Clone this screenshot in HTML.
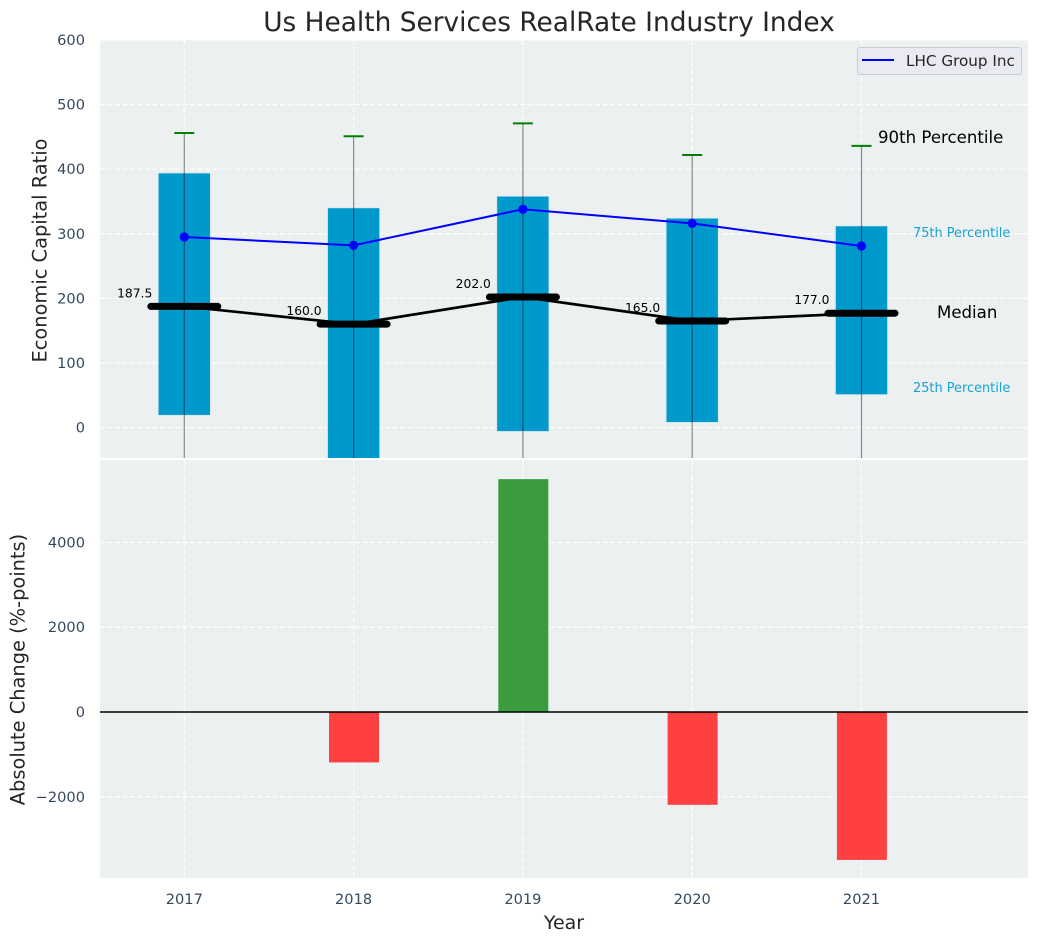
<!DOCTYPE html>
<html>
<head>
<meta charset="utf-8">
<title>Us Health Services RealRate Industry Index</title>
<style>
html,body{margin:0;padding:0;background:#fff;width:1039px;height:942px;overflow:hidden}
svg{display:block}
text{font-family:"DejaVu Sans","Liberation Sans",sans-serif}
</style>
</head>
<body>
<svg id="chart" xmlns="http://www.w3.org/2000/svg" width="1039" height="942" viewBox="0 0 1039 942">
<defs>
<clipPath id="top-clip"><rect x="100" y="40" width="928" height="418"/></clipPath>
<clipPath id="bottom-clip"><rect x="100" y="460" width="928" height="418"/></clipPath>
</defs>
<rect x="100" y="40" width="928" height="418" fill="#ecf0f1"/>
<rect x="100" y="460" width="928" height="418" fill="#ecf0f1"/>
<g id="top-grid"></g>
<g id="bottom-grid"></g>
<g id="top-marks" clip-path="url(#top-clip)"></g>
<g id="bottom-marks" clip-path="url(#bottom-clip)"></g>
<g id="tick-labels"></g>
<text x="549" y="31" text-anchor="middle" font-size="26.4" fill="#262626">Us Health Services RealRate Industry Index</text>
<text transform="translate(46.5,250.5) rotate(-90)" text-anchor="middle" font-size="19.4" fill="#262626">Economic Capital Ratio</text>
<text transform="translate(24.5,669.5) rotate(-90)" text-anchor="middle" font-size="19.4" fill="#262626">Absolute Change (%-points)</text>
<text x="564" y="929" text-anchor="middle" font-size="19" fill="#262626">Year</text>
<text x="878" y="143" font-size="16.6" fill="#000">90th Percentile</text>
<text x="913" y="237" font-size="12.9" fill="#0099cc" fill-opacity="0.9">75th Percentile</text>
<text x="937" y="318" font-size="16.6" fill="#000">Median</text>
<text x="913" y="392" font-size="12.9" fill="#0099cc" fill-opacity="0.9">25th Percentile</text>
<g>
<rect x="857.5" y="47.5" width="164" height="27" rx="2.5" fill="#eaeaf2" stroke="#cccccc" stroke-width="1"/>
<line x1="862" y1="60" x2="894" y2="60" stroke="#0000ff" stroke-width="2"/>
<text x="906" y="66" font-size="15.2" fill="#262626">LHC Group Inc</text>
</g>
</svg>
<script>
var years = [2017, 2018, 2019, 2020, 2021];
var p90 = [456, 451, 471, 422, 436];
var p75 = [394, 340, 358, 324, 312];
var medians = [187.5, 160, 202, 165, 177];
var medianLabels = ["187.5", "160.0", "202.0", "165.0", "177.0"];
var p25 = [19, -70, -6, 8, 51];
var p10 = [-120, -150, -110, -130, -90];
var lhcGroup = [295, 282, 338, 316, 281];
var absoluteChange = [0, -1190, 5495, -2190, -3490];
var topTicks = [0, 100, 200, 300, 400, 500, 600];
var bottomTicks = [-2000, 0, 2000, 4000];
var bottomTickLabels = ["\u22122000", "0", "2000", "4000"];

var NS = 'http://www.w3.org/2000/svg';
function xScale(v){ return 184.3 + (v - 2017) * 169.3; }
function yTop(v){ return 427.5 - v * 0.6458; }
function yBottom(v){ return 712 - v * 0.04238; }
function make(tag, parent){
  var el = document.createElementNS(NS, tag);
  parent.appendChild(el);
  return el;
}
function setAll(el, props){
  for (var k in props) el.setAttribute(k, props[k]);
}
var topGrid = document.getElementById('top-grid');
var bottomGrid = document.getElementById('bottom-grid');
var topMarks = document.getElementById('top-marks');
var bottomMarks = document.getElementById('bottom-marks');
var tickLabels = document.getElementById('tick-labels');
var gridStyle = {stroke:'#ffffff','stroke-width':1.2,'stroke-dasharray':'5 2.5'};

topTicks.forEach(function(t){
  var g = make('line', topGrid);
  
  
  setAll(g, gridStyle);
  setAll(g, {x1:100, x2:1028, y1:yTop(t), y2:yTop(t)});
  var l = make('text', tickLabels);
  
  
  setAll(l, {x:85, y:yTop(t)+5, 'text-anchor':'end', 'font-size':14.6, fill:'#34495e'});
  l.textContent = String(t);
});
bottomTicks.forEach(function(t, i){
  var g = make('line', bottomGrid);
  
  
  setAll(g, gridStyle);
  setAll(g, {x1:100, x2:1028, y1:yBottom(t), y2:yBottom(t)});
  var l = make('text', tickLabels);
  
  
  setAll(l, {x:85, y:yBottom(t)+5, 'text-anchor':'end', 'font-size':14.6, fill:'#34495e'});
  l.textContent = bottomTickLabels[i];
});
years.forEach(function(y){
  var a = make('line', topGrid);
  
  
  setAll(a, gridStyle);
  setAll(a, {x1:xScale(y), x2:xScale(y), y1:40, y2:458});
  var b = make('line', bottomGrid);
  
  
  setAll(b, gridStyle);
  setAll(b, {x1:xScale(y), x2:xScale(y), y1:460, y2:878});
  var l = make('text', tickLabels);
  
  
  setAll(l, {x:xScale(y), y:904, 'text-anchor':'middle', 'font-size':14.6, fill:'#34495e'});
  l.textContent = String(y);
});

// percentile boxes
years.forEach(function(y, i){
  var box = make('rect', topMarks);
  
  
  var t = yTop(p75[i]), b = yTop(p25[i]);
  setAll(box, {x:xScale(y)-26, width:52, y:t, height:b-t, fill:'#0099cc', stroke:'#cfe6ee', 'stroke-width':0.6});
});
// whiskers
years.forEach(function(y, i){
  var w = make('line', topMarks);
  
  
  setAll(w, {x1:xScale(y), x2:xScale(y), y1:yTop(p90[i]), y2:yTop(p10[i]), stroke:'#000', 'stroke-opacity':0.45, 'stroke-width':1.2});
  var c = make('line', topMarks);
  
  
  setAll(c, {x1:xScale(y)-10, x2:xScale(y)+10, y1:yTop(p90[i]), y2:yTop(p90[i]), stroke:'#008000', 'stroke-width':2});
});
// median connecting line
var medLine = make('polyline', topMarks);


setAll(medLine, {points:years.map(function(y,i){return xScale(y)+','+yTop(medians[i]);}).join(' '), fill:'none', stroke:'#000', 'stroke-width':2.7});
// median bars and labels
years.forEach(function(y, i){
  var m = make('line', topMarks);
  
  
  setAll(m, {x1:xScale(y)-33.5, x2:xScale(y)+33.5, y1:yTop(medians[i]), y2:yTop(medians[i]), stroke:'#000', 'stroke-width':7, 'stroke-linecap':'round'});
  var l = make('text', topMarks);
  
  
  setAll(l, {x:xScale(y)-32, y:yTop(medians[i])-9, 'text-anchor':'end', 'font-size':12.3, fill:'#000'});
  l.textContent = medianLabels[i];
});
// company line
var lhc = make('polyline', topMarks);


setAll(lhc, {points:years.map(function(y,i){return xScale(y)+','+yTop(lhcGroup[i]);}).join(' '), fill:'none', stroke:'#0000ff', 'stroke-width':2});
years.forEach(function(y, i){
  var p = make('circle', topMarks);
  
  
  setAll(p, {cx:xScale(y), cy:yTop(lhcGroup[i]), r:4.6, fill:'#0000ff'});
});
// change bars
years.forEach(function(y, i){
  var v = absoluteChange[i];
  if (!v) return;
  var r = make('rect', bottomMarks);
  
  
  var a = yBottom(Math.max(v,0)), b = yBottom(Math.min(v,0));
  setAll(r, {x:xScale(y)-24.6, width:50, y:a, height:b-a, fill:v>0?'#3a9c3e':'#ff4040'});
});
var zero = make('line', bottomMarks);


setAll(zero, {x1:100, x2:1028, y1:yBottom(0), y2:yBottom(0), stroke:'#000', 'stroke-width':1.5});
</script>
</body>
</html>
